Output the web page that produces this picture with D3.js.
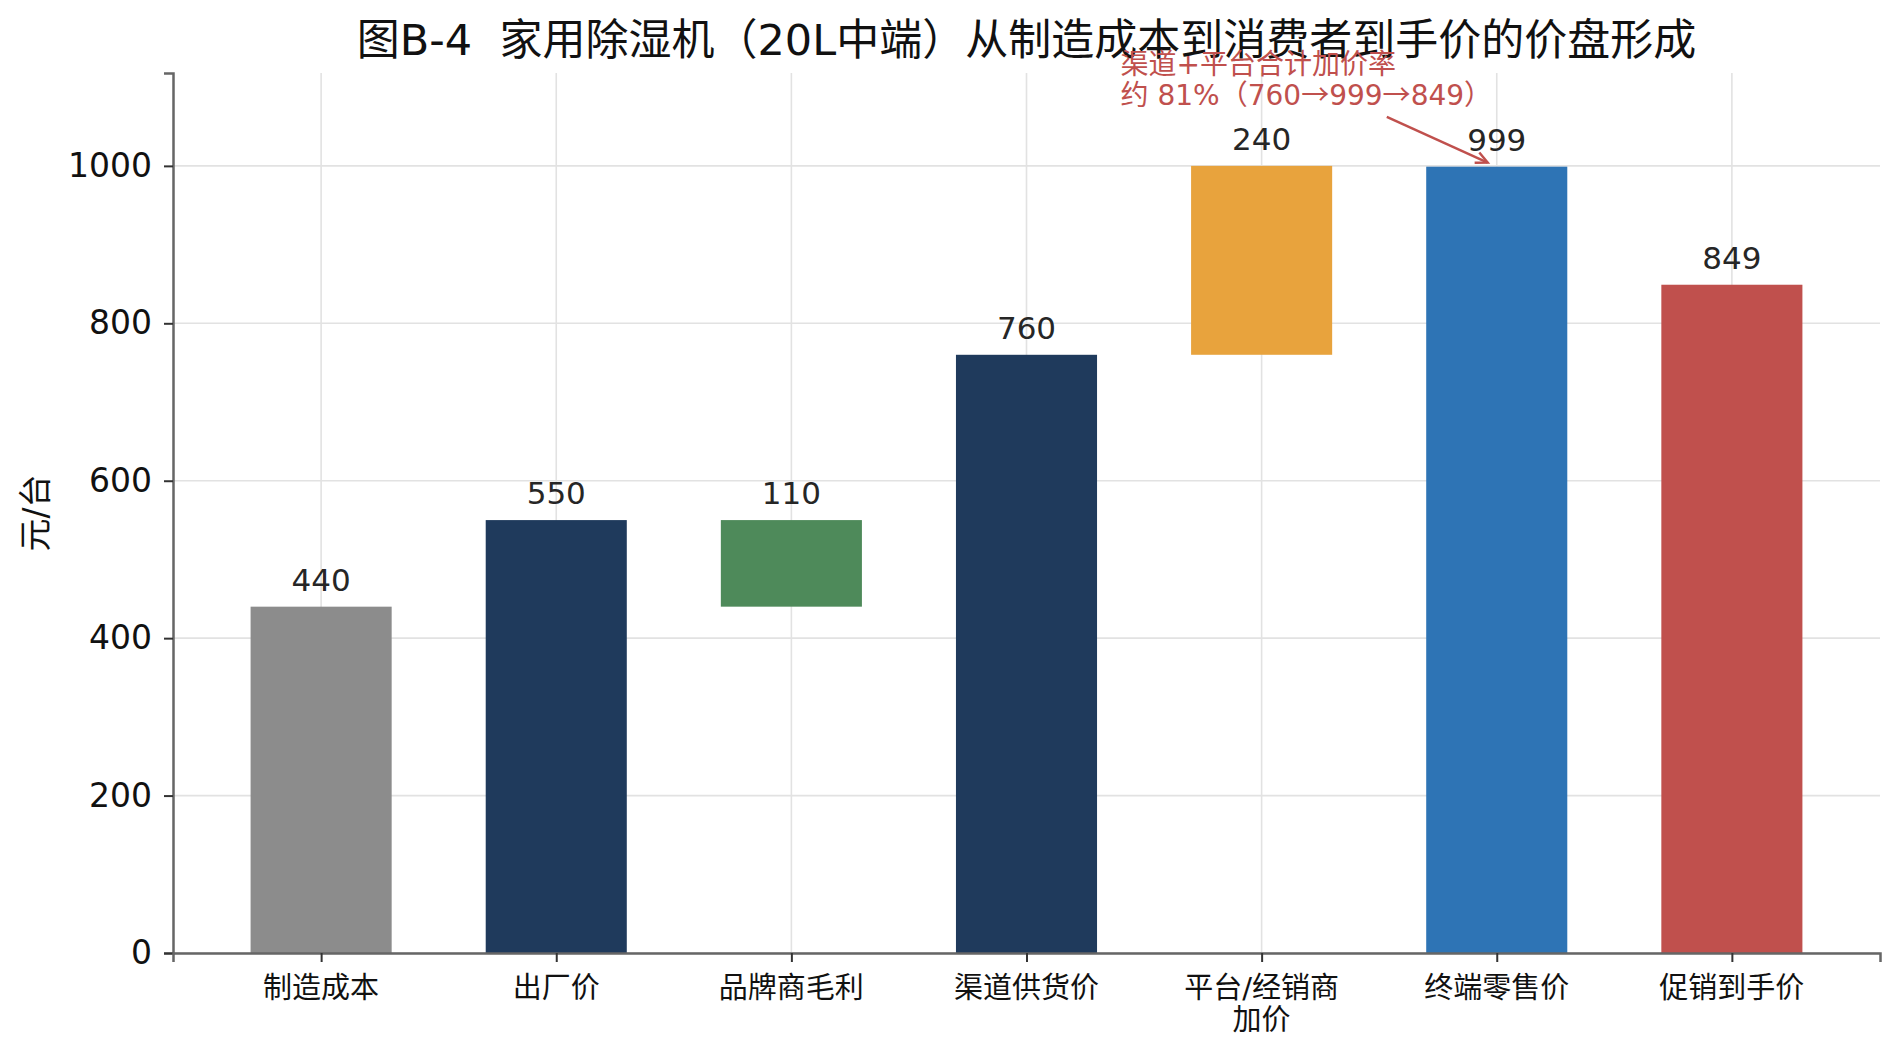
<!DOCTYPE html>
<html lang="zh">
<head>
<meta charset="utf-8">
<title>图B-4 价盘形成</title>
<script src="https://cdn.jsdelivr.net/npm/d3@7"></script>
<style>
  body { margin: 0; background: #fff; }
  svg text { font-family: "DejaVu Sans", "Noto Sans CJK SC", sans-serif; white-space: pre; }
</style>
</head>
<body>
<div id="chart"></div>
<script>
// data
var categories = ["制造成本", "出厂价", "品牌商毛利", "渠道供货价", "平台/经销商\n加价", "终端零售价", "促销到手价"];
var bases  = [0, 0, 440, 0, 760, 0, 0];
var values = [440, 550, 110, 760, 240, 999, 849];
var labels = ["440", "550", "110", "760", "240", "999", "849"];
var colors = ["#8c8c8c", "#1f3a5c", "#4e8a5a", "#1f3a5c", "#e8a33d", "#2e74b5", "#c0504d"];
var yTicks = [0, 200, 400, 600, 800, 1000];

var title = "图B-4  家用除湿机（20L中端）从制造成本到消费者到手价的价盘形成";
var noteLines = ["渠道+平台合计加价率", "约 81%（760→999→849）"];
var notePoint = [5, 999];     // arrow target (category index, value)
var noteText  = [3.4, 1117];  // text anchor (category index, value of first baseline)

var W = 1900, H = 1058;
var margin = {left: 173, right: 20, top: 73, bottom: 105};

var svg = d3.select('#chart').append('svg').attr('width', W).attr('height', H);

var x = d3.scaleLinear().domain([-0.63, categories.length - 1 + 0.63]).range([margin.left, W - margin.right]);
var y = d3.scaleLinear().domain([0, 1118]).range([H - margin.bottom, margin.top]);
var barW = x(0.6) - x(0);

// grid
svg.append('g').selectAll('line.h').data(yTicks).enter().append('line')
	.attr('x1', x.range()[0]).attr('x2', x.range()[1])
	.attr('y1', function(d) { return y(d); }).attr('y2', function(d) { return y(d); })
	.attr('stroke', '#e2e2e2').attr('stroke-width', 1.6);
svg.append('g').selectAll('line.v').data(categories).enter().append('line')
	.attr('x1', function(d, i) { return x(i); }).attr('x2', function(d, i) { return x(i); })
	.attr('y1', y.range()[0]).attr('y2', y.range()[1])
	.attr('stroke', '#e2e2e2').attr('stroke-width', 1.6);

// bars
svg.append('g').selectAll('rect').data(values).enter().append('rect')
	.attr('x', function(d, i) { return x(i) - barW / 2; })
	.attr('width', barW)
	.attr('y', function(d, i) { return y(bases[i] + d); })
	.attr('height', function(d, i) { return y(bases[i]) - y(bases[i] + d); })
	.attr('fill', function(d, i) { return colors[i]; });

// value labels
svg.append('g').selectAll('text').data(values).enter().append('text')
	.attr('x', function(d, i) { return x(i); })
	.attr('y', function(d, i) { return y(bases[i] + d) - 16; })
	.attr('text-anchor', 'middle')
	.attr('font-size', 31).attr('fill', '#262626')
	.text(function(d, i) { return labels[i]; });

// y axis
var yAxis = svg.append('g').attr('transform', 'translate(' + margin.left + ',0)')
	.call(d3.axisLeft(y).tickValues(yTicks).tickFormat(d3.format('d')).tickSize(9).tickPadding(12));
yAxis.select('.domain').attr('stroke', '#666').attr('stroke-width', 2.5);
yAxis.selectAll('.tick line').attr('stroke', '#333').attr('stroke-width', 2);
yAxis.selectAll('.tick text').attr('font-size', 33).attr('fill', '#111')
	.style('font-family', '"DejaVu Sans", sans-serif');

// x axis
var xAxis = svg.append('g').attr('transform', 'translate(0,' + y(0) + ')')
	.call(d3.axisBottom(x).tickValues(d3.range(categories.length)).tickSize(9).tickFormat(''));
xAxis.select('.domain').attr('stroke', '#666').attr('stroke-width', 2.5);
xAxis.selectAll('.tick line').attr('stroke', '#333').attr('stroke-width', 2);

var xl = svg.append('g').selectAll('text').data(categories).enter().append('text')
	.attr('text-anchor', 'middle')
	.attr('font-size', 29).attr('fill', '#111');
xl.each(function(d, i) {
	var t = d3.select(this);
	d.split('\n').forEach(function(line, k) {
		t.append('tspan').attr('x', x(i)).attr('y', y(0) + 45 + k * 32).text(line);
	});
});

// y label
svg.append('text')
	.attr('transform', 'translate(47,' + ((y.range()[0] + y.range()[1]) / 2) + ') rotate(-90)')
	.attr('text-anchor', 'middle').attr('font-size', 33).attr('fill', '#111')
	.text('元/台');

// title
svg.append('text')
	.attr('x', (x.range()[0] + x.range()[1]) / 2).attr('y', 55)
	.attr('text-anchor', 'middle').attr('font-size', 43).attr('fill', '#111')
	.text(title);

// annotation (arrows drawn with the CJK font, which sets them full width)
var note = svg.append('text').attr('font-size', 28).attr('fill', '#c0504d');
noteLines.forEach(function(line, k) {
	var row = note.append('tspan').attr('x', x(noteText[0])).attr('y', y(noteText[1]) + k * 31);
	line.split('→').forEach(function(part, j) {
		if (j > 0) row.append('tspan').style('font-family', '"Noto Sans CJK SC", sans-serif').text('→');
		row.append('tspan').text(part);
	});
});
var bb = note.node().getBBox();
var cx = bb.x + bb.width / 2, cy = bb.y + bb.height / 2;
var tx = x(notePoint[0]), ty = y(notePoint[1]);
var dx = tx - cx, dy = ty - cy, len = Math.sqrt(dx * dx + dy * dy);
var ux = dx / len, uy = dy / len;
// start just below the text box, stop a little short of the target
var tStart = (bb.y + bb.height + 4 - cy) / uy;
var sx = cx + ux * tStart, sy = cy + uy * tStart;
var ex = tx - ux * 10, ey = ty - uy * 10;
svg.append('line').attr('x1', sx).attr('y1', sy).attr('x2', ex).attr('y2', ey)
	.attr('stroke', '#c0504d').attr('stroke-width', 2.5);
var ah = 13, aw = 0.45;
var head = [
	[ex - ah * (ux * Math.cos(aw) - uy * Math.sin(aw)), ey - ah * (uy * Math.cos(aw) + ux * Math.sin(aw))],
	[ex, ey],
	[ex - ah * (ux * Math.cos(-aw) - uy * Math.sin(-aw)), ey - ah * (uy * Math.cos(-aw) + ux * Math.sin(-aw))]
];
svg.append('path').attr('d', d3.line()(head))
	.attr('fill', 'none').attr('stroke', '#c0504d').attr('stroke-width', 2.5);
</script>
</body>
</html>
